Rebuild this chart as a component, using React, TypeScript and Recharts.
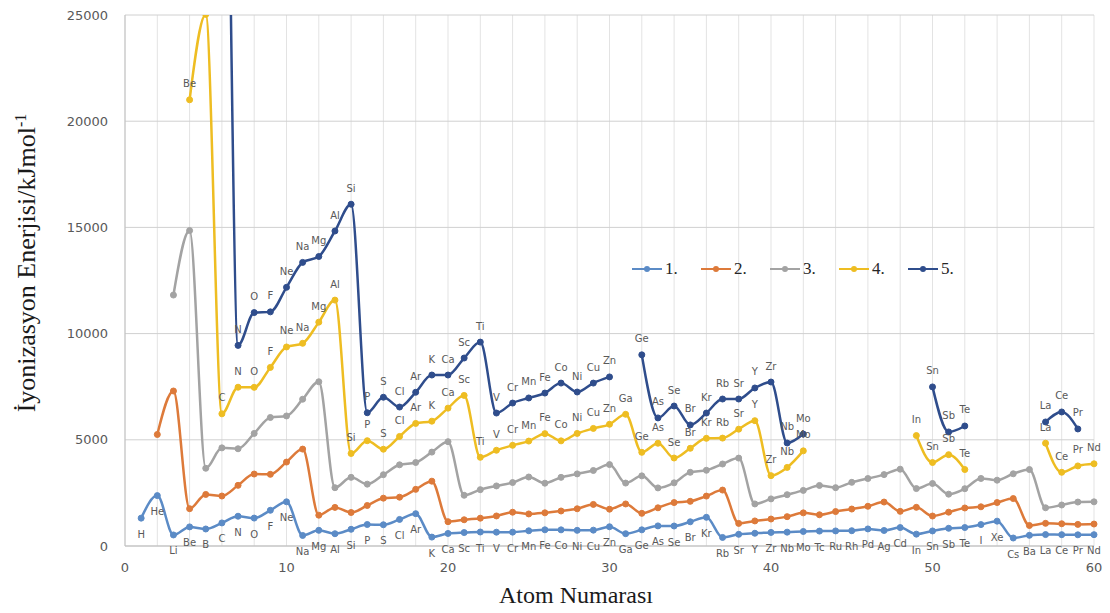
import {
  CartesianGrid,
  LabelList,
  Legend,
  Line,
  LineChart,
  XAxis,
  YAxis,
} from "recharts";

// element symbols, atomic number 1..60
const SYMBOLS = [
  "H", "He", "Li", "Be", "B", "C", "N", "O", "F", "Ne",
  "Na", "Mg", "Al", "Si", "P", "S", "Cl", "Ar", "K", "Ca",
  "Sc", "Ti", "V", "Cr", "Mn", "Fe", "Co", "Ni", "Cu", "Zn",
  "Ga", "Ge", "As", "Se", "Br", "Kr", "Rb", "Sr", "Y", "Zr",
  "Nb", "Mo", "Tc", "Ru", "Rh", "Pd", "Ag", "Cd", "In", "Sn",
  "Sb", "Te", "I", "Xe", "Cs", "Ba", "La", "Ce", "Pr", "Nd",
];

const IE1 = [
  1312, 2372, 520, 900, 801, 1086, 1402, 1314, 1681, 2081,
  496, 738, 578, 787, 1012, 1000, 1251, 1521, 419, 590,
  633, 659, 651, 653, 717, 763, 760, 737, 746, 906,
  579, 762, 947, 941, 1140, 1351, 403, 550, 600, 640,
  652, 684, 702, 710, 720, 804, 731, 868, 558, 709,
  834, 869, 1008, 1170, 376, 503, 538, 534, 527, 533,
];

const IE2 = [
  null, 5250, 7298, 1757, 2427, 2353, 2856, 3388, 3374, 3952,
  4562, 1451, 1817, 1577, 1907, 2252, 2298, 2666, 3052, 1145,
  1235, 1310, 1414, 1591, 1509, 1562, 1648, 1753, 1958, 1733,
  1979, 1537, 1798, 2045, 2103, 2350, 2633, 1064, 1180, 1270,
  1382, 1560, 1470, 1620, 1740, 1870, 2070, 1631, 1820, 1411,
  1594, 1790, 1845, 2046, 2234, 965, 1067, 1047, 1018, 1034,
];

const IE3 = [
  null, null, 11815, 14849, 3660, 4620, 4578, 5300, 6050, 6122,
  6910, 7733, 2745, 3232, 2912, 3357, 3822, 3931, 4420, 4912,
  2389, 2653, 2828, 2987, 3248, 2957, 3232, 3395, 3555, 3833,
  2963, 3302, 2735, 2974, 3470, 3565, 3860, 4138, 1980, 2218,
  2416, 2618, 2850, 2747, 2997, 3177, 3361, 3616, 2704, 2943,
  2440, 2698, 3180, 3099, 3400, 3600, 1800, 1930, 2070, 2080,
];

const IE4 = [
  null, null, null, 21007, 25026, 6223, 7475, 7469, 8408, 9370,
  9543, 10540, 11577, 4356, 4957, 4556, 5158, 5771, 5877, 6491,
  7090, 4175, 4507, 4740, 4940, 5290, 4950, 5300, 5536, 5731,
  6200, 4410, 4837, 4143, 4600, 5070, 5080, 5500, 5900, 3313,
  3700, 4480, null, null, null, null, null, null, 5200, 3930,
  4300, 3600, null, null, null, null, 4840, 3470, 3770, 3870,
];

const IE5 = [
  null, null, null, null, 37831, 47277, 9445, 10989, 11023, 12178,
  13353, 13630, 14830, 16091, 6274, 7004, 6542, 7238, 8050, 8050,
  8850, 9600, 6260, 6730, 6970, 7200, 7670, 7250, 7670, 7960,
  null, 9000, 6030, 6590, 5700, 6260, 6920, 6920, 7440, 7720,
  4850, 5270, null, null, null, null, null, null, null, 7490,
  5370, 5650, null, null, null, null, 5840, 6310, 5510, null,
];

const SERIES = [
  { key: "s1", name: "1.", values: IE1, color: "#5b8bc6", label: "bottom" },
  { key: "s2", name: "2.", values: IE2, color: "#dd7a3a", label: null },
  { key: "s3", name: "3.", values: IE3, color: "#a3a3a3", label: null },
  { key: "s4", name: "4.", values: IE4, color: "#eebd22", label: "top" },
  { key: "s5", name: "5.", values: IE5, color: "#2f4d8c", label: "top" },
];

const X_TICKS = [
  0, 2, 4, 6, 8, 10, 12, 14, 16, 18, 20, 22, 24, 26, 28, 30,
  32, 34, 36, 38, 40, 42, 44, 46, 48, 50, 52, 54, 56, 58, 60,
];
const Y_TICKS = [0, 5000, 10000, 15000, 20000, 25000];

const rows = SYMBOLS.map((sym, i) => {
  const row: Record<string, number | string | null> = { z: i + 1, sym };
  SERIES.forEach((s) => {
    row[s.key] = s.values[i];
  });
  return row;
});

const PLOT_TOP = 15;
const TICK_FONT = "DejaVu Sans, sans-serif";

function symbolLabel(place: string) {
  return (props: any) => {
    const { x, y, value } = props;
    if (x == null || y == null || !value || y < PLOT_TOP) return null;
    return (
      <text
        x={x}
        y={place === "top" ? y - 16 : y + 16}
        textAnchor="middle"
        dominantBaseline="central"
        fontSize={10}
        fontFamily={TICK_FONT}
        fill="#595959"
      >
        {value}
      </text>
    );
  };
}

function LegendContent({ payload }: { payload?: Array<{ value?: string; color?: string }> }) {
  return (
    <div
      style={{
        display: "flex",
        fontFamily: "Liberation Serif, serif",
        fontSize: 17,
        color: "#262626",
      }}
    >
      {(payload || []).map((p) => (
        <div key={p.value} style={{ display: "flex", alignItems: "center", width: 69 }}>
          <svg width={30} height={10}>
            <line x1={0} y1={5} x2={30} y2={5} stroke={p.color} strokeWidth={2} />
            <circle cx={15} cy={5} r={3} fill={p.color} />
          </svg>
          <span style={{ marginLeft: 3 }}>{p.value}</span>
        </div>
      ))}
    </div>
  );
}

export default function App() {
  return (
    <div style={{ position: "absolute", left: 0, top: 0, width: 1110, height: 613, background: "#fff" }}>
      <LineChart
        width={1110}
        height={613}
        data={rows}
        margin={{ top: PLOT_TOP, right: 16, bottom: 37, left: 0 }}
      >
        <CartesianGrid stroke="#e3e3e3" horizontal={false} />
        <CartesianGrid stroke="#d0d0d0" vertical={false} />
        <XAxis
          dataKey="z"
          type="number"
          domain={[0, 60]}
          ticks={X_TICKS}
          interval={0}
          tickFormatter={(v) => (v % 10 === 0 ? String(v) : "")}
          tick={{ fill: "#595959", fontSize: 13, fontFamily: TICK_FONT }}
          tickLine={false}
          tickMargin={11}
          axisLine={{ stroke: "#bfbfbf" }}
          height={30}
        />
        <YAxis
          type="number"
          domain={[0, 25000]}
          ticks={Y_TICKS}
          allowDataOverflow
          tick={{ fill: "#595959", fontSize: 13, fontFamily: TICK_FONT }}
          tickLine={false}
          tickMargin={11}
          axisLine={{ stroke: "#bfbfbf" }}
          width={125}
        />
        <Legend
          layout="horizontal"
          verticalAlign="middle"
          align="center"
          content={<LegendContent />}
          wrapperStyle={{ left: 632, top: 259, width: 360 }}
        />
        {SERIES.map((s) => (
          <Line
            key={s.key}
            dataKey={s.key}
            name={s.name}
            type="monotone"
            stroke={s.color}
            strokeWidth={2.5}
            dot={{ r: 3, fill: s.color, stroke: s.color, strokeWidth: 1 }}
            activeDot={false}
            connectNulls={false}
            isAnimationActive={false}
          >
            {s.label && <LabelList dataKey="sym" content={symbolLabel(s.label)} />}
          </Line>
        ))}
      </LineChart>
      <div
        style={{
          position: "absolute",
          left: 27,
          top: 263,
          transform: "translate(-50%, -50%) rotate(-90deg)",
          whiteSpace: "nowrap",
          fontFamily: "Liberation Serif, serif",
          fontSize: 26,
          color: "#1a1a1a",
        }}
      >
        İyonizasyon Enerjisi/kJmol<sup style={{ fontSize: 16 }}>-1</sup>
      </div>
      <div
        style={{
          position: "absolute",
          left: 576,
          top: 595,
          transform: "translate(-50%, -50%)",
          whiteSpace: "nowrap",
          fontFamily: "Liberation Serif, serif",
          fontSize: 24,
          color: "#1a1a1a",
        }}
      >
        Atom Numarası
      </div>
    </div>
  );
}
